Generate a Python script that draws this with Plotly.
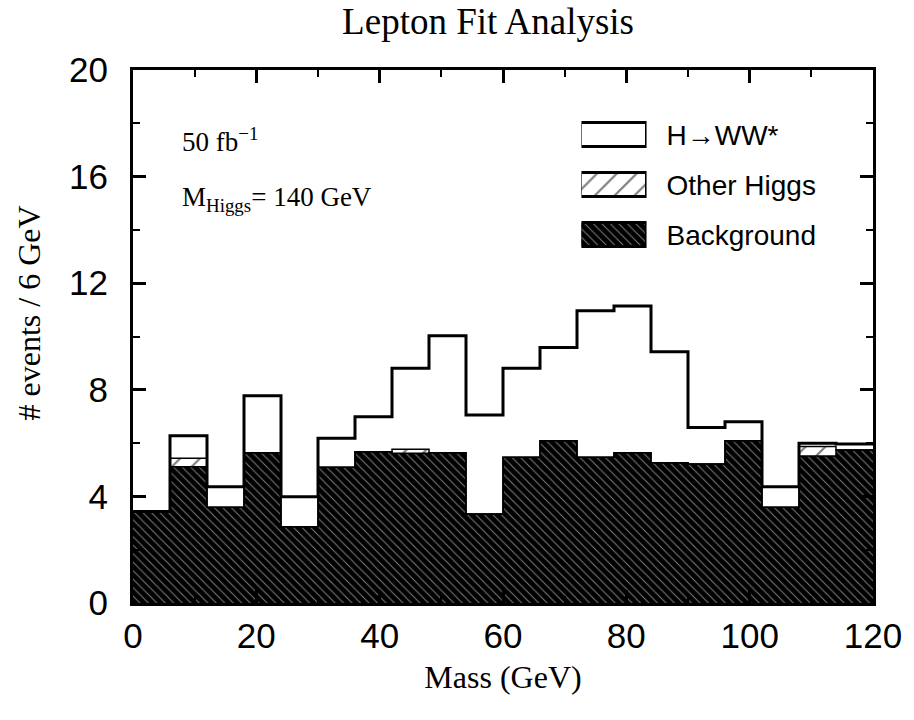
import numpy as np
import plotly.graph_objects as go

# ---- data ----
bin_edges = list(range(0, 126, 6))          # 0..120 GeV, 6 GeV bins
background = [3.43, 5.11, 3.59, 5.64, 2.86, 5.09, 5.68, 5.62, 5.64, 3.34,
              5.47, 6.09, 5.47, 5.64, 5.26, 5.22, 6.09, 3.59, 5.52, 5.74]
other_higgs = [0.00, 0.32, 0.00, 0.00, 0.00, 0.00, 0.00, 0.15, 0.00, 0.00,
               0.00, 0.00, 0.00, 0.00, 0.00, 0.00, 0.00, 0.00, 0.35, 0.00]
h_ww = [0.00, 0.85, 0.77, 2.14, 1.13, 1.09, 1.31, 3.04, 4.39, 3.71,
        3.34, 3.50, 5.50, 5.50, 4.17, 1.37, 0.71, 0.77, 0.12, 0.23]
legend_labels = ["Background", "Other Higgs", "H\u2192WW*"]
x_ticks = [0, 20, 40, 60, 80, 100, 120]
y_ticks = [0, 4, 8, 12, 16, 20]

edges = np.array(bin_edges, dtype=float)
centers = (edges[:-1] + edges[1:]) / 2
widths = np.diff(edges)
bkg = np.array(background)
oth = np.array(other_higgs)
hww = np.array(h_ww)
lvl_bkg = bkg
lvl_oth = bkg + oth
lvl_tot = bkg + oth + hww

SERIF = "Liberation Serif, Times New Roman, serif"
SANS = "Liberation Sans, Arial, Helvetica, sans-serif"

bkg_pattern = dict(shape="\\", fgcolor="white", bgcolor="black", size=6, solidity=0.16)
oth_pattern = dict(shape="/", fgcolor="black", bgcolor="white", size=14, solidity=0.16)

fig = go.Figure()

fig.add_trace(go.Bar(x=centers, y=bkg, width=widths, name="Background",
                     marker=dict(color="black", pattern=bkg_pattern, line=dict(width=0)),
                     showlegend=False))
fig.add_trace(go.Bar(x=centers, y=oth, width=widths, name="Other Higgs",
                     marker=dict(color="white", pattern=oth_pattern, line=dict(width=0)),
                     showlegend=False))
fig.add_trace(go.Bar(x=centers, y=hww, width=widths, name="H\u2192WW*",
                     marker=dict(color="white", line=dict(width=0)),
                     showlegend=False))


def step(levels):
    return list(levels) + [levels[-1]]


fig.add_trace(go.Scatter(x=edges, y=step(lvl_bkg), mode="lines", line_shape="hv",
                         line=dict(color="black", width=1.5), showlegend=False,
                         hoverinfo="skip"))
fig.add_trace(go.Scatter(x=edges, y=step(lvl_oth), mode="lines", line_shape="hv",
                         line=dict(color="black", width=1.5), showlegend=False,
                         hoverinfo="skip"))
fig.add_trace(go.Scatter(x=edges, y=step(lvl_tot), mode="lines", line_shape="hv",
                         line=dict(color="black", width=3), showlegend=False,
                         hoverinfo="skip"))

# ---- legend swatches (drawn on a small auxiliary axis pair) ----
legend_marker = [
    dict(color="black", pattern=bkg_pattern, line=dict(color="black", width=2.5)),
    dict(color="white", pattern=oth_pattern, line=dict(color="black", width=2.5)),
    dict(color="white", line=dict(color="black", width=2.5)),
]
for lab, mk in zip(legend_labels, legend_marker):
    fig.add_trace(go.Bar(x=[1], y=[lab], orientation="h", width=0.48, marker=mk,
                         xaxis="x2", yaxis="y2", showlegend=False, cliponaxis=False,
                         hoverinfo="skip"))

axis_common = dict(showline=True, linecolor="black", linewidth=3, mirror="allticks",
                   ticks="inside", tickwidth=2.5, ticklen=13, tickcolor="black",
                   showgrid=False, zeroline=False,
                   tickfont=dict(family=SANS, size=35, color="black"))

fig.update_layout(
    width=914, height=720,
    margin=dict(l=133, r=32, t=70, b=117),
    paper_bgcolor="white", plot_bgcolor="white",
    barmode="stack", bargap=0,
    title=dict(text="Lepton Fit Analysis", x=0.534, xanchor="center",
               y=1 - 21 / 720, yanchor="middle",
               font=dict(family=SERIF, size=37, color="black")),
    xaxis=dict(range=[0, 120], tickvals=x_ticks,
               minor=dict(dtick=10, ticklen=7, tickwidth=2, ticks="inside", tickcolor="black"),
               ticklabelstandoff=0,
               title=dict(text="Mass (GeV)", font=dict(family=SERIF, size=32, color="black"),
                          standoff=12),
               **axis_common),
    yaxis=dict(range=[0, 20], tickvals=y_ticks,
               minor=dict(dtick=2, ticklen=7, tickwidth=2, ticks="inside", tickcolor="black"),
               ticklabelstandoff=15,
               **axis_common),
    xaxis2=dict(domain=[0.606, 0.694], range=[0, 1], anchor="y2", visible=False,
                fixedrange=True),
    yaxis2=dict(domain=[0.6435, 0.925], anchor="x2", side="right", type="category",
                categoryorder="array", categoryarray=legend_labels,
                showline=False, showgrid=False, zeroline=False, ticks="",
                ticklabelstandoff=19,
                tickfont=dict(family=SANS, size=28, color="black"), fixedrange=True),
    annotations=[
        dict(text="# events / 6 GeV", xref="paper", yref="paper",
             x=-0.140, y=0.544, xanchor="center", yanchor="middle", textangle=-90,
             showarrow=False, font=dict(family=SERIF, size=32, color="black")),
        dict(text="50 fb<sup>\u22121</sup>", xref="paper", yref="paper",
             x=0.063, y=0.869, xanchor="left", yanchor="middle", showarrow=False,
             font=dict(family=SERIF, size=27, color="black")),
        dict(text="M<sub>Higgs</sub>= 140 GeV", xref="paper", yref="paper",
             x=0.063, y=0.758, xanchor="left", yanchor="middle", showarrow=False,
             font=dict(family=SERIF, size=27, color="black")),
    ],
)

fig.write_html("out.html")
